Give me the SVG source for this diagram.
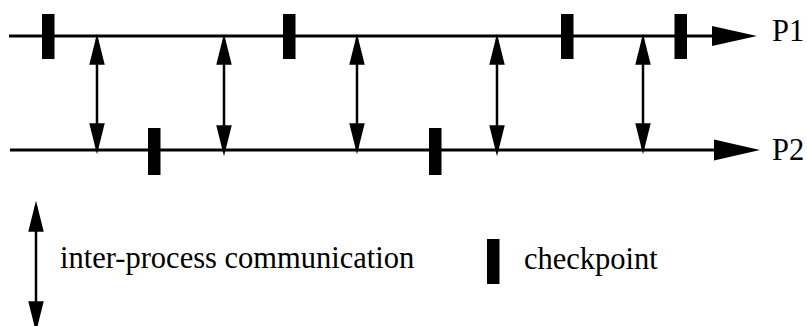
<svg xmlns="http://www.w3.org/2000/svg" width="807" height="326" viewBox="0 0 807 326">
  <defs>
    <style>
      .timeline { stroke: #000; stroke-width: 3; fill: none; }
      .msg { stroke: #000; stroke-width: 2.5; fill: none; marker-start: url(#head); marker-end: url(#head); }
      .ckpt { fill: #000; }
      .lbl { font-family: "Liberation Serif", "Times New Roman", Times, serif; font-size: 30.5px; fill: #000; }
    </style>
    <!-- filled arrowhead, tip placed 5px past the line end -->
    <marker id="head" markerUnits="userSpaceOnUse" markerWidth="32" markerHeight="18"
            viewBox="0 -8 31 16" refX="25" refY="0" orient="auto-start-reverse">
      <path d="M0,-7.5 L30,0 L0,7.5 z" fill="#000"/>
    </marker>
  </defs>
  <rect width="807" height="326" fill="#fff"/>

  <!-- process timelines -->
  <g id="p1">
    <line class="timeline" x1="9" y1="36" x2="714" y2="36"/>
    <polygon points="712,26 757,36 712,46" fill="#000"/>
    <text class="lbl" x="772" y="41">P1</text>
  </g>
  <g id="p2">
    <line class="timeline" x1="10" y1="150" x2="716" y2="150"/>
    <polygon points="714,139.5 760,150 714,160.5" fill="#000"/>
    <text class="lbl" x="772" y="160">P2</text>
  </g>

  <!-- checkpoints on P1 -->
  <g id="ckpt-p1-1"><rect class="ckpt" x="42" y="14" width="12.5" height="45"/></g>
  <g id="ckpt-p1-2"><rect class="ckpt" x="283" y="14" width="12.5" height="45"/></g>
  <g id="ckpt-p1-3"><rect class="ckpt" x="561" y="14" width="12.5" height="45"/></g>
  <g id="ckpt-p1-4"><rect class="ckpt" x="674.5" y="14" width="12.5" height="45"/></g>

  <!-- checkpoints on P2 -->
  <g id="ckpt-p2-1"><rect class="ckpt" x="148" y="128" width="12.5" height="47"/></g>
  <g id="ckpt-p2-2"><rect class="ckpt" x="429" y="128" width="12.5" height="47"/></g>

  <!-- inter-process messages -->
  <g id="connectors">
    <line class="msg" x1="97" y1="39" x2="97" y2="149"/>
    <line class="msg" x1="224" y1="39" x2="224" y2="151"/>
    <line class="msg" x1="357" y1="39" x2="357" y2="149"/>
    <line class="msg" x1="497" y1="39" x2="497" y2="151"/>
    <line class="msg" x1="643" y1="39" x2="643" y2="149"/>
  </g>

  <!-- legend -->
  <g id="legend-ipc">
    <line class="msg" x1="36" y1="206" x2="36" y2="327"/>
    <text class="lbl" x="60" y="268">inter-process communication</text>
  </g>
  <g id="legend-ckpt">
    <rect class="ckpt" x="487" y="239" width="12.5" height="45"/>
    <text class="lbl" x="524" y="269">checkpoint</text>
  </g>
</svg>
